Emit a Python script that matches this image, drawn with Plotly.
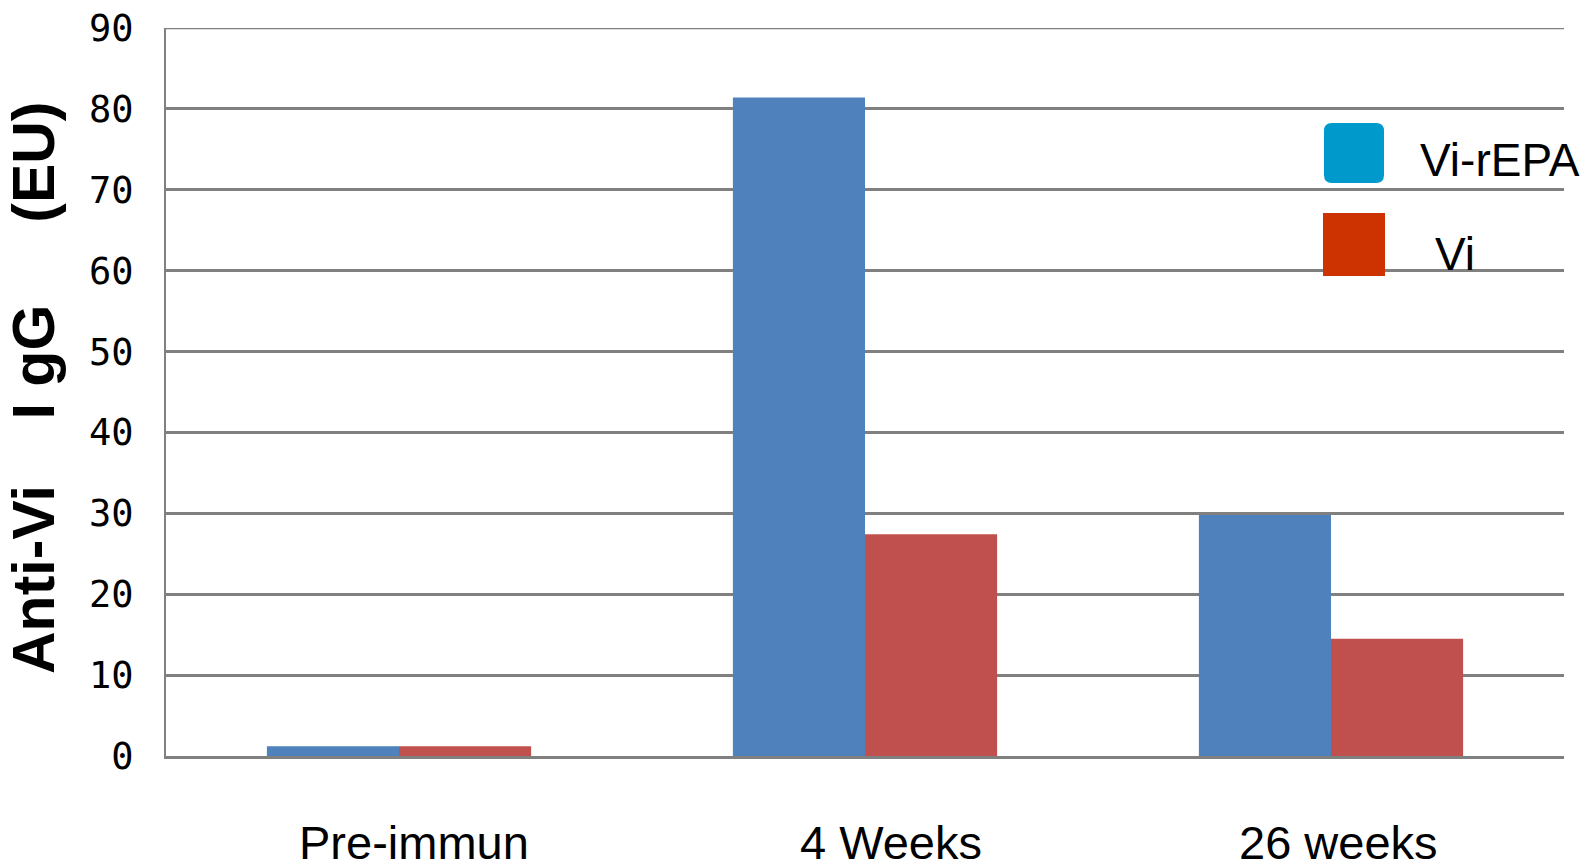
import plotly.graph_objects as go

categories = ["Pre-immun", "4 Weeks", "26 weeks"]
series_names = ["Vi-rEPA", "Vi"]
vi_repa = [1.2, 81.4, 29.8]
vi = [1.2, 27.4, 14.5]
y_ticks = [0, 10, 20, 30, 40, 50, 60, 70, 80, 90]

bar_colors = ["#4F81BD", "#C0504D"]
legend_colors = ["#0099CC", "#CC3300"]

W, H = 1592, 864
OFF = 8  # page body margin offset
# target plot area in screen pixels
SX0, SX1, SY0, SY1 = 166, 1564, 28, 756
L, T = SX0 - OFF, SY0 - OFF
R = W - (SX1 - OFF)
B = H - (SY1 - OFF)
PW, PH = SX1 - SX0, SY1 - SY0


def xp(px):
    return (px - SX0) / PW


def yp(py):
    return (SY1 - py) / PH


fig = go.Figure()
for name, vals, col in zip(series_names, [vi_repa, vi], bar_colors):
    fig.add_trace(go.Bar(x=categories, y=vals, name=name, marker_color=col,
                         marker_line_width=0, showlegend=False))

grid = "#808080"
fig.update_layout(
    width=W, height=H,
    margin=dict(l=L, r=R, t=T, b=B, pad=0, autoexpand=False),
    paper_bgcolor="white", plot_bgcolor="white",
    barmode="group", bargap=0.433, bargroupgap=0,
    xaxis=dict(showticklabels=False, showgrid=False, showline=True, automargin=False,
               linecolor=grid, linewidth=2.5, ticks=""),
    yaxis=dict(range=[0, 90], tickvals=y_ticks, showgrid=True, gridcolor=grid,
               gridwidth=2.5, zeroline=False, showline=True, linecolor=grid,
               linewidth=2, ticks="", ticklabelstandoff=23, automargin=False,
               ticklabeloverflow="allow",
               tickfont=dict(family="DejaVu Sans Mono", size=37, color="black")),
    font=dict(family="Liberation Sans", color="black"),
)

# top gridline (90) drawn at the top edge of the plot area
fig.add_shape(type="line", xref="paper", yref="y", x0=0, x1=1, y0=y_ticks[-1], y1=y_ticks[-1],
              line=dict(color=grid, width=2.5), layer="below")

# category labels
label_shift = [15, 26, 7]
for cat, sh in zip(categories, label_shift):
    fig.add_annotation(x=cat, xref="x", y=0, yref="paper", yshift=-86, xshift=sh,
                       text=cat, showarrow=False, yanchor="middle", xanchor="center",
                       font=dict(family="Liberation Sans", size=47, color="black"))

# y-axis title
nb = "\u00a0"
title = "Anti-Vi" + nb * 4 + "I" + nb + "gG" + nb * 5 + "(EU)"
fig.add_annotation(x=xp(34), y=yp(388), xref="paper", yref="paper", text="<b>" + title + "</b>",
                   textangle=-90, showarrow=False, xanchor="center", yanchor="middle",
                   font=dict(family="Liberation Sans", size=59, color="black"))

# legend
r = 8
x0, x1, y0, y1 = xp(1324), xp(1384), yp(123), yp(183)
rx, ry = r / PW, r / PH
path = (f"M {x0+rx},{y0} L {x1-rx},{y0} Q {x1},{y0} {x1},{y0-ry} "
        f"L {x1},{y1+ry} Q {x1},{y1} {x1-rx},{y1} L {x0+rx},{y1} "
        f"Q {x0},{y1} {x0},{y1+ry} L {x0},{y0-ry} Q {x0},{y0} {x0+rx},{y0} Z")
fig.add_shape(type="path", path=path, xref="paper", yref="paper",
              fillcolor=legend_colors[0], line_width=0)
fig.add_shape(type="rect", x0=xp(1323), x1=xp(1385), y0=yp(213), y1=yp(276),
              xref="paper", yref="paper", fillcolor=legend_colors[1], line_width=0)
fig.add_annotation(x=xp(1418), y=yp(160), xref="paper", yref="paper", text=series_names[0],
                   showarrow=False, xanchor="left", yanchor="middle",
                   font=dict(family="Liberation Sans", size=46, color="black"))
fig.add_annotation(x=xp(1433), y=yp(254), xref="paper", yref="paper", text=series_names[1],
                   showarrow=False, xanchor="left", yanchor="middle",
                   font=dict(family="Liberation Sans", size=46, color="black"))

fig.write_html("out.html")
